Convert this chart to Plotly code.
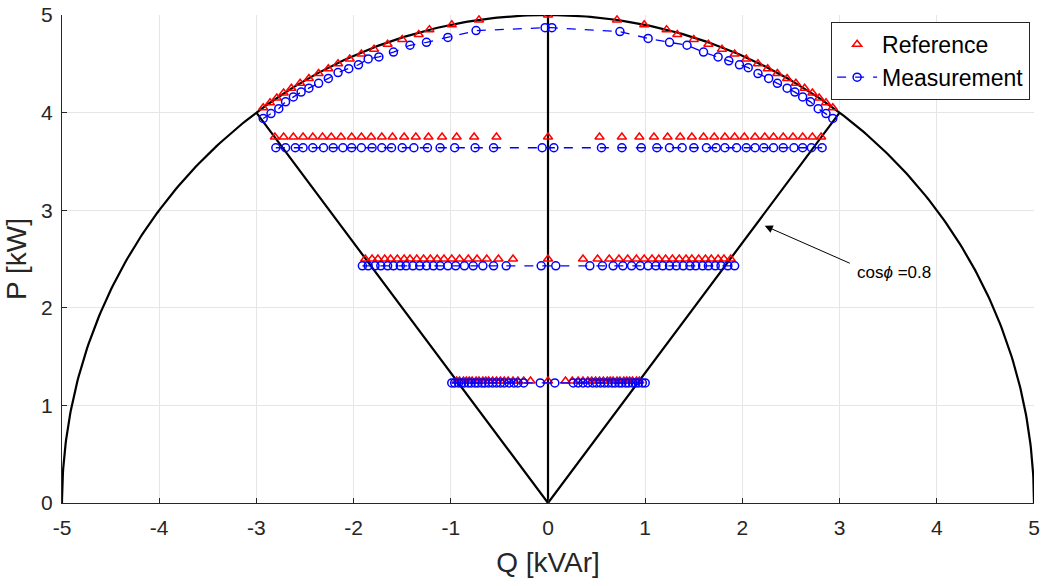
import numpy as np
import plotly.graph_objects as go

# ---- Reference operating points (Q in kVAr, P in kW) ----
ref_arc_q = [-2.93, -2.86, -2.79, -2.72, -2.64, -2.55, -2.46, -2.36, -2.26,
             -2.16, -2.04, -1.92, -1.79, -1.65, -1.50, -1.33, -1.22, -0.99, -0.71,
             0.0,
             0.71, 0.99, 1.22, 1.33, 1.50, 1.65, 1.79, 1.92, 2.04, 2.16,
             2.26, 2.36, 2.46, 2.55, 2.64, 2.72, 2.79, 2.86, 2.93]
ref_arc_p = [4.05, 4.10, 4.15, 4.20, 4.25, 4.30, 4.35, 4.40, 4.45,
             4.50, 4.55, 4.60, 4.65, 4.70, 4.75, 4.80, 4.85, 4.90, 4.95,
             5.0,
             4.95, 4.90, 4.85, 4.80, 4.75, 4.70, 4.65, 4.60, 4.55, 4.50,
             4.45, 4.40, 4.35, 4.30, 4.25, 4.20, 4.15, 4.10, 4.05]

ref_row1_q = [-2.81, -2.72, -2.62, -2.52, -2.42, -2.32, -2.23, -2.13, -2.02, -1.92,
              -1.82, -1.71, -1.60, -1.48, -1.36, -1.23, -1.09, -0.94, -0.76, -0.53,
              0.0,
              0.53, 0.76, 0.94, 1.09, 1.23, 1.36, 1.48, 1.60, 1.71, 1.82,
              1.92, 2.02, 2.13, 2.23, 2.32, 2.42, 2.52, 2.62, 2.72, 2.81]
ref_row1_p = 3.75

ref_row2_q = [-1.88, -1.81, -1.75, -1.68, -1.62, -1.55, -1.48, -1.42, -1.35, -1.28,
              -1.21, -1.14, -1.07, -0.99, -0.91, -0.82, -0.73, -0.63, -0.51, -0.36,
              0.0,
              0.36, 0.51, 0.63, 0.73, 0.82, 0.91, 0.99, 1.07, 1.14, 1.21,
              1.28, 1.35, 1.42, 1.48, 1.55, 1.62, 1.68, 1.75, 1.81, 1.88]
ref_row2_p = 2.5

ref_row3_q = [-0.94, -0.91, -0.87, -0.84, -0.81, -0.78, -0.74, -0.71, -0.67, -0.64,
              -0.61, -0.57, -0.53, -0.49, -0.45, -0.41, -0.36, -0.31, -0.25, -0.18,
              0.0,
              0.18, 0.25, 0.31, 0.36, 0.41, 0.45, 0.49, 0.53, 0.57, 0.61,
              0.64, 0.67, 0.71, 0.74, 0.78, 0.81, 0.84, 0.87, 0.91, 0.94]
ref_row3_p = 1.25

# ---- Measured operating points ----
meas_arc_q = [-2.93, -2.85, -2.77, -2.70, -2.62, -2.54, -2.46, -2.36, -2.26,
              -2.16, -2.05, -1.95, -1.85, -1.74, -1.59, -1.42, -1.25, -1.03, -0.74,
              -0.03, 0.04,
              0.74, 1.03, 1.25, 1.43, 1.60, 1.75, 1.86, 1.97, 2.06, 2.16,
              2.27, 2.36, 2.46, 2.54, 2.62, 2.70, 2.78, 2.86, 2.93]
meas_arc_p = [3.94, 3.99, 4.04, 4.11, 4.16, 4.21, 4.25, 4.30, 4.35,
              4.41, 4.45, 4.49, 4.55, 4.57, 4.62, 4.69, 4.72, 4.77, 4.84,
              4.87, 4.87,
              4.83, 4.76, 4.72, 4.69, 4.62, 4.57, 4.53, 4.49, 4.46, 4.40,
              4.35, 4.30, 4.25, 4.21, 4.16, 4.11, 4.04, 3.99, 3.94]

meas_row1_q = [-2.80, -2.70, -2.60, -2.52, -2.42, -2.31, -2.21, -2.11, -2.02, -1.92,
               -1.81, -1.71, -1.61, -1.50, -1.38, -1.24, -1.11, -0.96, -0.75, -0.56,
               -0.06, 0.06,
               0.55, 0.76, 0.96, 1.12, 1.25, 1.38, 1.50, 1.63, 1.73, 1.82,
               1.94, 2.04, 2.13, 2.22, 2.32, 2.42, 2.53, 2.62, 2.71, 2.82]
meas_row1_p = 3.64

meas_row2_q = [-1.91, -1.85, -1.78, -1.72, -1.65, -1.59, -1.52, -1.46, -1.39, -1.32,
               -1.25, -1.18, -1.11, -1.03, -0.95, -0.86, -0.77, -0.67, -0.56, -0.43,
               -0.07, 0.08,
               0.43, 0.56, 0.67, 0.77, 0.86, 0.95, 1.03, 1.11, 1.18, 1.25,
               1.32, 1.39, 1.46, 1.52, 1.59, 1.65, 1.72, 1.78, 1.85, 1.92]
meas_row2_p = 2.43

meas_row3_q = [-0.99, -0.96, -0.92, -0.89, -0.86, -0.82, -0.79, -0.75, -0.72, -0.68,
               -0.65, -0.61, -0.57, -0.53, -0.49, -0.45, -0.40, -0.35, -0.31, -0.25,
               -0.08, 0.07,
               0.26, 0.31, 0.36, 0.41, 0.46, 0.50, 0.54, 0.58, 0.62, 0.66,
               0.69, 0.73, 0.76, 0.80, 0.83, 0.87, 0.90, 0.93, 0.97, 1.00]
meas_row3_p = 1.23

# ---- Axis ticks ----
q_ticks = [-5, -4, -3, -2, -1, 0, 1, 2, 3, 4, 5]
q_tick_labels = ["-5", "-4", "-3", "-2", "-1", "0", "1", "2", "3", "4", "5"]
p_ticks = [0, 1, 2, 3, 4, 5]
p_tick_labels = ["0", "1", "2", "3", "4", "5"]

# ---- Capability limits ----
S_MAX = 5.0      # apparent power limit, kVA
PF_LIMIT = 0.8   # power factor limit

FONT = "Liberation Sans, Arial, Helvetica"

fig = go.Figure()

# Semicircle |S| = S_MAX
theta = np.linspace(0, np.pi, 361)
fig.add_trace(go.Scatter(x=S_MAX * np.cos(theta), y=S_MAX * np.sin(theta),
                         mode="lines", line=dict(color="black", width=2.2),
                         showlegend=False, hoverinfo="skip"))

# Power-factor limit rays and the unity-pf axis
p_lim = S_MAX * PF_LIMIT
q_lim = S_MAX * np.sqrt(1 - PF_LIMIT ** 2)
fig.add_trace(go.Scatter(x=[-q_lim, 0, q_lim, None, 0, 0],
                         y=[p_lim, 0, p_lim, None, 0, S_MAX],
                         mode="lines", line=dict(color="black", width=2.2),
                         showlegend=False, hoverinfo="skip"))


def joined(segments):
    xs, ys = [], []
    for q, p in segments:
        if xs:
            xs.append(None)
            ys.append(None)
        xs.extend(q)
        ys.extend(p if isinstance(p, list) else [p] * len(q))
    return xs, ys


ref_x, ref_y = joined([(ref_arc_q, ref_arc_p), (ref_row1_q, ref_row1_p),
                       (ref_row2_q, ref_row2_p), (ref_row3_q, ref_row3_p)])
meas_x, meas_y = joined([(meas_arc_q, meas_arc_p), (meas_row1_q, meas_row1_p),
                         (meas_row2_q, meas_row2_p), (meas_row3_q, meas_row3_p)])

fig.add_trace(go.Scatter(x=ref_x, y=ref_y, mode="markers", name="Reference",
                         marker=dict(symbol="triangle-up-open", size=8, color="red",
                                     line=dict(width=1.5, color="red"))))
fig.add_trace(go.Scatter(x=meas_x, y=meas_y, mode="lines+markers", name="Measurement",
                         connectgaps=False,
                         line=dict(color="blue", width=1.3, dash="dash"),
                         marker=dict(symbol="circle-open", size=8, color="blue",
                                     line=dict(width=1.5, color="blue"))))

# Annotation for the power factor limit
fig.add_annotation(x=2.23, y=2.84, ax=3.12, ay=2.45, xref="x", yref="y",
                   axref="x", ayref="y", text="", showarrow=True,
                   arrowhead=2, arrowsize=1.6, arrowwidth=1, arrowcolor="black")
fig.add_annotation(x=3.16, y=2.36, xref="x", yref="y", text="cos<i>ϕ</i> =0.8",
                   showarrow=False, xanchor="left", yanchor="middle",
                   font=dict(family=FONT, size=17, color="black"))

tick_font = dict(family=FONT, size=21, color="#262626")
title_font = dict(family=FONT, size=28, color="#262626")
fig.update_xaxes(range=[-5, 5], tickmode="array", tickvals=q_ticks, ticktext=q_tick_labels,
                 showgrid=True, gridcolor="#e6e6e6", automargin=False,
                 zeroline=False, showline=True, linecolor="#262626", linewidth=1,
                 ticks="inside", ticklen=5, tickcolor="#262626", tickfont=tick_font,
                 ticklabelstandoff=6,
                 title=dict(text="Q [kVAr]", font=title_font, standoff=14))
fig.update_yaxes(range=[0, 5], tickmode="array", tickvals=p_ticks, ticktext=p_tick_labels,
                 showgrid=True, gridcolor="#e6e6e6", automargin=False,
                 zeroline=False, showline=True, linecolor="#262626", linewidth=1,
                 ticks="inside", ticklen=5, tickcolor="#262626", tickfont=tick_font,
                 ticklabelstandoff=4,
                 title=dict(text="P [kW]", font=title_font, standoff=6))

fig.update_layout(
    width=1044, height=586,
    margin=dict(l=62, r=10, t=15, b=83),
    plot_bgcolor="white", paper_bgcolor="white",
    legend=dict(x=0.996, y=0.986, xanchor="right", yanchor="top",
                bgcolor="white", bordercolor="#262626", borderwidth=1,
                font=dict(family=FONT, size=23, color="black"),
                tracegroupgap=0, itemwidth=40),
)

fig.write_html("out.html")
